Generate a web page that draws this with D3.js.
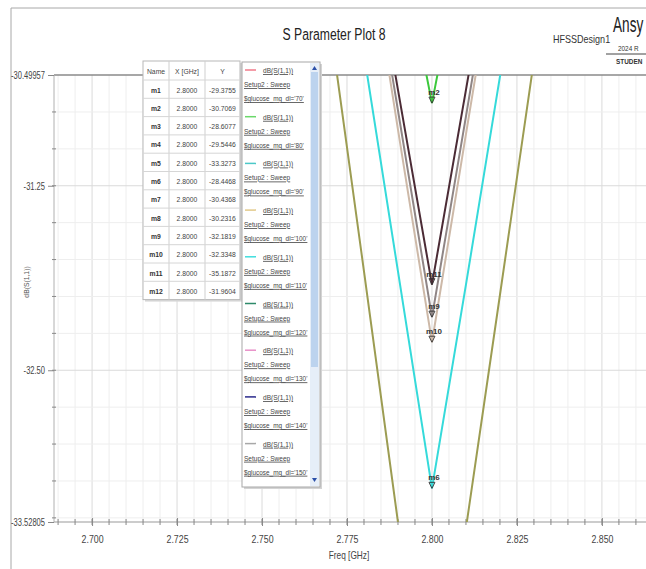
<!DOCTYPE html>
<html>
<head>
<meta charset="utf-8">
<script src="https://cdn.jsdelivr.net/npm/d3@7/dist/d3.min.js"></script>
<style>
  body { margin: 0; background: #fff; }
  text { font-family: "Liberation Sans Narrow", "Arial Narrow", "Liberation Sans", sans-serif; }
</style>
</head>
<body>
<svg id="chart" width="646" height="569"></svg>
<script>
// sweep points (GHz)
var freqs = [2.77, 2.78, 2.79, 2.80, 2.81, 2.82, 2.83];

// dB(S(1,1)) traces
var traceOlive = [-30.15, -31.83, -33.53, -35.19, -33.57, -31.99, -30.40];
var traceCyan  = [-28.90, -30.36, -31.83, -33.30, -31.92, -30.51, -29.10];
var traceGreen = [-26.70, -28.10, -29.52, -30.69, -29.50, -28.10, -26.70];
var traceDark  = [-27.96, -29.28, -30.60, -31.92, -30.60, -29.28, -27.96];
var traceGray  = [-27.90, -29.34, -30.74, -32.14, -30.78, -29.40, -28.00];
var traceTan   = [-28.00, -29.40, -30.87, -32.31, -30.90, -29.50, -28.10];

var traces = [traceOlive, traceCyan, traceGreen, traceTan, traceGray, traceDark];
var traceColors = ["#9c9c52", "#35dada", "#3cc83c", "#cdb9a8", "#8f8585", "#4b2b35"];
var traceMarkers = ["m11", "m6", "m2", "m10", "m9", "m11"];

// marker table
var markerNames = ["m1","m2","m3","m4","m5","m6","m7","m8","m9","m10","m11","m12"];
var markerX = ["2.8000","2.8000","2.8000","2.8000","2.8000","2.8000","2.8000","2.8000","2.8000","2.8000","2.8000","2.8000"];
var markerY = ["-29.3755","-30.7069","-28.6077","-29.5446","-33.3273","-28.4468","-30.4368","-30.2316","-32.1819","-32.3348","-35.1872","-31.9604"];

// legend
var legendDist = ["70","80","90","100","110","120","130","140","150"];
var legendColors = ["#f07a8a","#6ad86a","#4cc8c8","#e2c98a","#40dede","#2e8a6a","#e890c8","#2a2a8c","#a8a8a8"];

// axes
var xTicks = [2.700, 2.725, 2.750, 2.775, 2.800, 2.825, 2.850];
var yTicks = [-30.49957, -31.25, -32.50, -33.52805];

// squeeze text horizontally (the screenshot uses a narrow font)
function squeeze(sel, sx) {
  sel.each(function() {
    var t = d3.select(this);
    var x0 = +t.attr("x") || 0, y0 = +t.attr("y") || 0;
    t.attr("x", 0).attr("y", 0).attr("transform", "translate(" + x0 + "," + y0 + ") scale(" + sx + ",1)");
  });
}

var svg = d3.select("#chart");
var margin = {top: 75, left: 54, bottom: 522, right: 658};

var x = d3.scaleLinear().domain([2.6888, 2.8665]).range([margin.left, margin.right]);
var y = d3.scaleLinear().domain([-33.52805, -30.49957]).range([margin.bottom, margin.top]);

// outer frame
svg.append("line").attr("x1", 11).attr("x2", 646).attr("y1", 8).attr("y2", 8).attr("stroke", "#a8a8a8");
svg.append("line").attr("x1", 11).attr("x2", 11).attr("y1", 8).attr("y2", 569).attr("stroke", "#a8a8a8");

// titles
squeeze(svg.append("text").attr("x", 334).attr("y", 40).attr("text-anchor", "middle")
  .style("font-size", "16.5px").attr("fill", "#222").text("S Parameter Plot 8"), 0.74);
squeeze(svg.append("text").attr("x", 553).attr("y", 43).style("font-size", "10.5px").attr("fill", "#333").text("HFSSDesign1"), 0.86);
squeeze(svg.append("text").attr("x", 613).attr("y", 32).style("font-size", "22px").attr("fill", "#222").text("Ansy"), 0.62);
squeeze(svg.append("text").attr("x", 618).attr("y", 51).style("font-size", "8px").attr("fill", "#333").text("2024 R"), 0.8);
svg.append("line").attr("x1", 606).attr("x2", 646).attr("y1", 54).attr("y2", 54).attr("stroke", "#444");
squeeze(svg.append("text").attr("x", 616).attr("y", 64).style("font-size", "8px").style("font-weight", "bold").attr("fill", "#333").text("STUDEN"), 0.8);

svg.append("clipPath").attr("id", "plotClip").append("rect")
  .attr("x", margin.left).attr("y", margin.top)
  .attr("width", margin.right - margin.left).attr("height", margin.bottom - margin.top);

// grid
var xMinor = d3.range(2.690, 2.8665, 0.005);
var yMinor = d3.range(-30.75, -33.53, -0.25);
var grid = svg.append("g").attr("clip-path", "url(#plotClip)");
grid.selectAll(".vgrid").data(xMinor).enter().append("line")
  .attr("x1", function(d) { return x(d); }).attr("x2", function(d) { return x(d); })
  .attr("y1", margin.top).attr("y2", margin.bottom)
  .attr("stroke", function(d) { return Math.abs(d * 40 - Math.round(d * 40)) < 1e-6 ? "#dadada" : "#eeeeee"; });
grid.selectAll(".hgrid").data(yMinor).enter().append("line")
  .attr("x1", margin.left).attr("x2", margin.right)
  .attr("y1", function(d) { return y(d); }).attr("y2", function(d) { return y(d); })
  .attr("stroke", function(d) { return (d === -31.25 || d === -32.5) ? "#dadada" : "#eeeeee"; });

// axes lines
svg.append("line").attr("x1", margin.left).attr("x2", 646).attr("y1", margin.top).attr("y2", margin.top).attr("stroke", "#8a8a8a").attr("stroke-width", 1.5);
svg.append("line").attr("x1", margin.left).attr("x2", 646).attr("y1", margin.bottom).attr("y2", margin.bottom).attr("stroke", "#9a9a9a").attr("stroke-width", 1.2);
svg.append("line").attr("x1", margin.left).attr("x2", margin.left).attr("y1", margin.top).attr("y2", margin.bottom).attr("stroke", "#b0b0b0");

// minor ticks
svg.append("g").selectAll("line").data(xMinor).enter().append("line")
  .attr("x1", function(d) { return x(d); }).attr("x2", function(d) { return x(d); })
  .attr("y1", margin.bottom - 3).attr("y2", margin.bottom + 3).attr("stroke", "#888");
svg.append("g").selectAll("line").data(yMinor).enter().append("line")
  .attr("x1", margin.left - 2).attr("x2", margin.left + 2)
  .attr("y1", function(d) { return y(d); }).attr("y2", function(d) { return y(d); }).attr("stroke", "#888");

var xAxis = d3.axisBottom(x).tickValues(xTicks).tickFormat(d3.format(".3f")).tickSize(4).tickPadding(9);
var xAxisG = svg.append("g").attr("transform", "translate(0," + margin.bottom + ")").call(xAxis);
xAxisG.select(".domain").remove();
xAxisG.selectAll(".tick line").attr("y1", -4).attr("stroke", "#888");
xAxisG.selectAll("text").style("font-size", "11px").attr("fill", "#444")
  .style("font-family", "'Liberation Sans Narrow','Arial Narrow','Liberation Sans',sans-serif");
squeeze(xAxisG.selectAll("text"), 0.8);

var yAxis = d3.axisLeft(y).tickValues(yTicks)
  .tickFormat(function(d) { return (d === -30.49957 || d === -33.52805) ? d.toFixed(5) : d.toFixed(2); })
  .tickSize(6).tickPadding(3);
var yAxisG = svg.append("g").attr("transform", "translate(" + margin.left + ",0)").call(yAxis);
yAxisG.select(".domain").remove();
yAxisG.selectAll(".tick line").attr("stroke", "#888");
yAxisG.selectAll("text").style("font-size", "10.5px").attr("fill", "#444")
  .style("font-family", "'Liberation Sans Narrow','Arial Narrow','Liberation Sans',sans-serif");
squeeze(yAxisG.selectAll("text"), 0.72);

svg.append("text").attr("transform", "translate(29,282) rotate(-90) scale(0.85,1)").attr("text-anchor", "middle")
  .style("font-size", "8px").attr("fill", "#555").text("dB(S(1,1))");
squeeze(svg.append("text").attr("x", 349).attr("y", 559).attr("text-anchor", "middle")
  .style("font-size", "10px").attr("fill", "#444").text("Freq [GHz]"), 0.83);

// traces
var line = d3.line().x(function(d, i) { return x(freqs[i]); }).y(function(d) { return y(d); });
var plot = svg.append("g").attr("clip-path", "url(#plotClip)");
plot.selectAll(".trace").data(traces).enter().append("path")
  .attr("d", line).attr("fill", "none")
  .attr("stroke", function(d, i) { return traceColors[i]; })
  .attr("stroke-width", 2);

// markers at 2.800
var mk = plot.selectAll(".mk").data(traces.slice(1)).enter().append("g")
  .attr("transform", function(d) { return "translate(" + x(2.80) + "," + y(d[3]) + ")"; });
mk.append("path").attr("d", "M-3,-6L3,-6L0,0Z").attr("fill", "none").attr("stroke", "#333").attr("stroke-width", 0.9);
mk.append("text").attr("x", 2).attr("y", -8).attr("text-anchor", "middle")
  .style("font-size", "8px").style("font-weight", "bold").attr("fill", "#333")
  .text(function(d, i) { return traceMarkers[i + 1]; });

// marker table
var tbl = svg.append("g");
var colX = [143, 169, 205, 240];
var rowH = 18.3, headY = 61, bodyY = 80;
var tblBottom = bodyY + rowH * markerNames.length;
tbl.append("rect").attr("x", colX[0] + 2).attr("y", headY + 2).attr("width", colX[3] - colX[0]).attr("height", tblBottom - headY)
  .attr("fill", "#d8d8d8");
tbl.append("rect").attr("x", colX[0]).attr("y", headY).attr("width", colX[3] - colX[0]).attr("height", tblBottom - headY)
  .attr("fill", "#fff").attr("stroke", "#b8b8b8");
tbl.selectAll(".col").data(colX.slice(1, 3)).enter().append("line")
  .attr("x1", function(d) { return d; }).attr("x2", function(d) { return d; })
  .attr("y1", headY).attr("y2", tblBottom).attr("stroke", "#cfcfcf");
tbl.selectAll(".row").data(markerNames).enter().append("line")
  .attr("x1", colX[0]).attr("x2", colX[3])
  .attr("y1", function(d, i) { return bodyY + i * rowH; }).attr("y2", function(d, i) { return bodyY + i * rowH; })
  .attr("stroke", "#d6d6d6");
var heads = ["Name", "X [GHz]", "Y"];
squeeze(tbl.selectAll(".head").data(heads).enter().append("text")
  .attr("x", function(d, i) { return (colX[i] + colX[i + 1]) / 2; }).attr("y", headY + 13)
  .attr("text-anchor", "middle").style("font-size", "8px").attr("fill", "#444").text(function(d) { return d; }), 0.85);
var rows = tbl.selectAll(".r").data(markerNames).enter().append("g")
  .attr("transform", function(d, i) { return "translate(0," + (bodyY + i * rowH + 12.5) + ")"; });
squeeze(rows.append("text").attr("x", (colX[0] + colX[1]) / 2).attr("text-anchor", "middle")
  .style("font-size", "8px").style("font-weight", "bold").attr("fill", "#333").text(function(d) { return d; }), 0.85);
squeeze(rows.append("text").attr("x", (colX[1] + colX[2]) / 2).attr("text-anchor", "middle")
  .style("font-size", "8px").attr("fill", "#444").text(function(d, i) { return markerX[i]; }), 0.85);
squeeze(rows.append("text").attr("x", (colX[2] + colX[3]) / 2).attr("text-anchor", "middle")
  .style("font-size", "8px").attr("fill", "#444").text(function(d, i) { return markerY[i]; }), 0.85);

// legend
var lg = svg.append("g");
var lgX = 242, lgY = 62, lgW = 78, lgH = 425, entryH = 46.7;
lg.append("rect").attr("x", lgX + 2).attr("y", lgY + 2).attr("width", lgW).attr("height", lgH).attr("fill", "#d4d4d4");
lg.append("rect").attr("x", lgX).attr("y", lgY).attr("width", lgW).attr("height", lgH).attr("fill", "#fff").attr("stroke", "#a8a8a8");
lg.append("rect").attr("x", lgX + lgW - 10).attr("y", lgY + 1).attr("width", 9).attr("height", lgH - 2).attr("fill", "#e6eef8");
lg.append("rect").attr("x", lgX + lgW - 9).attr("y", lgY + 10).attr("width", 7).attr("height", 295).attr("fill", "#bcd3ee");
lg.append("path").attr("d", "M" + (lgX + lgW - 8) + "," + (lgY + 8) + "l2.5,-4l2.5,4z").attr("fill", "#2b4fa8");
lg.append("path").attr("d", "M" + (lgX + lgW - 8) + "," + (lgY + lgH - 9) + "l2.5,4l2.5,-4z").attr("fill", "#2b4fa8");
var ent = lg.selectAll(".e").data(legendDist).enter().append("g")
  .attr("transform", function(d, i) { return "translate(0," + (lgY + 8 + i * entryH) + ")"; });
ent.append("line").attr("x1", lgX + 3).attr("x2", lgX + 14).attr("y1", 0).attr("y2", 0)
  .attr("stroke", function(d, i) { return legendColors[i]; }).attr("stroke-width", 1.5);
squeeze(ent.append("text").attr("x", lgX + 21).attr("y", 3).style("font-size", "8px").style("text-decoration", "underline")
  .attr("fill", "#444").text("dB(S(1,1))"), 0.82);
squeeze(ent.append("text").attr("x", lgX + 2).attr("y", 17).style("font-size", "8px").style("text-decoration", "underline")
  .attr("fill", "#444").text("Setup2 : Sweep"), 0.82);
squeeze(ent.append("text").attr("x", lgX + 2).attr("y", 31).style("font-size", "8px").style("text-decoration", "underline")
  .attr("fill", "#444").text(function(d) { return "$glucose_mg_dl='" + d + "'"; }), 0.8);
</script>
</body>
</html>
